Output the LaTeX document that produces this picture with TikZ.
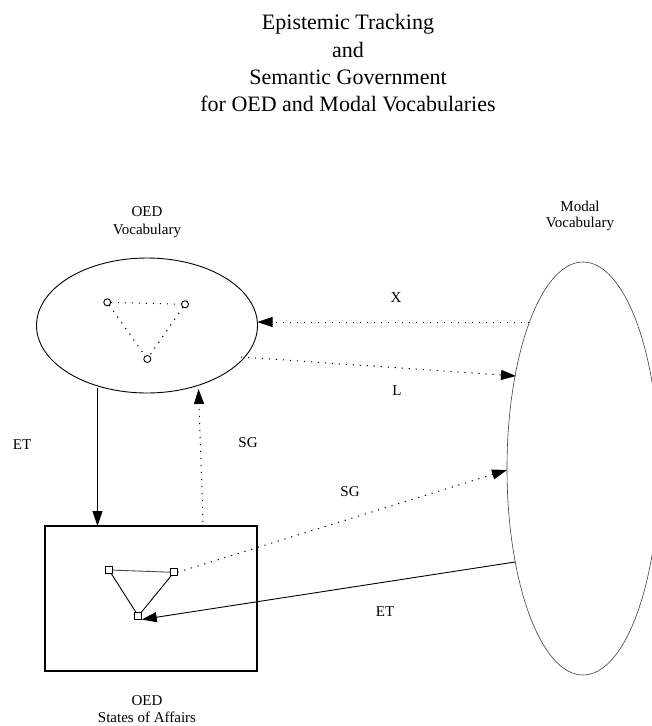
\documentclass[tikz,border=0pt]{standalone}
\usepackage{fontspec}
\setmainfont{Liberation Serif}
\usetikzlibrary{shapes.geometric,arrows.meta}
\begin{document}
\begin{tikzpicture}[x=1pt,y=-1pt,
  lbl/.style={font=\fontsize{15}{18}\selectfont, inner sep=0pt},
  lblb/.style={lbl, anchor=base},
  ttl/.style={font=\fontsize{22}{27}\selectfont, inner sep=0pt, anchor=base},
  solidline/.style={line width=0.9pt},
  dotline/.style={line width=1pt, dash pattern=on 1.2pt off 5.8pt},
  tip/.style={-{Triangle[length=15pt,width=10pt]}},
  dot/.style={circle, draw, line width=0.9pt, minimum size=7pt, inner sep=0pt, outer sep=0pt},
  sq/.style={rectangle, draw, line width=1.1pt, minimum size=7pt, inner sep=0pt, outer sep=0pt},
]
\useasboundingbox (0,0) rectangle (652,726);
\fill[white] (0,0) rectangle (652,726);

% title
\node[ttl] (t1) at (348,29.5) {Epistemic Tracking};
\node[ttl] (t2) at (348,57) {and};
\node[ttl] (t3) at (348,84) {Semantic Government};
\node[ttl] (t4) at (348,111) {for OED and Modal Vocabularies};

% OED vocabulary
\node[lblb] (ov1) at (147,216.7) {OED};
\node[lblb] (ov2) at (147,234.5) {Vocabulary};
\node[draw, ellipse, line width=0.9pt, minimum width=221pt, minimum height=135pt, inner sep=0pt, outer sep=0pt] (oed) at (147,325.5) {};
\node[dot] (c1) at (107.3,302.3) {};
\node[dot] (c2) at (185,304.3) {};
\node[dot] (c3) at (147.3,359) {};
\draw[dotline] (c1) -- (c2);
\draw[dotline] (c1) -- (c3);
\draw[dotline] (c2) -- (c3);

% Modal vocabulary
\node[lblb] (mv1) at (580,211.7) {Modal};
\node[lblb] (mv2) at (580,227.7) {Vocabulary};
\node[draw=black!75, ellipse, line width=0.6pt, minimum width=152pt, minimum height=413pt, inner sep=0pt, outer sep=0pt] (modal) at (583,468.5) {};

% states of affairs
\node[draw, line width=1.2pt, minimum width=212pt, minimum height=145pt, inner sep=0pt, outer sep=0pt] (soa) at (151,598.5) {};
\node[sq] (s1) at (109,570) {};
\node[sq] (s2) at (174,572.3) {};
\node[sq] (s3) at (138.3,616) {};
\draw[line width=0.9pt, black!70] (s1) -- (s2);
\draw[solidline] (s1) -- (s3);
\draw[solidline] (s2) -- (s3);
\node[lblb] (so1) at (147,705.7) {OED};
\node[lblb] (so2) at (147,722.7) {States of Affairs};

% connectors
\coordinate (xs) at (529,322);
\draw[dotline, tip] (xs) -- (xs -| oed.east);
\node[lbl] (xl) at (396,298) {X};

\coordinate (ls) at (241,357);
\coordinate (lt) at (516,376);
\draw[dotline, tip] (ls) -- (lt);
\node[lbl] (ll) at (397,391) {L};

\coordinate (ets) at (97.5,388);
\draw[solidline, tip] (ets) -- (ets |- soa.north);
\node[lbl] (etl) at (22,445) {ET};

\coordinate (sgs) at (203,522);
\coordinate (sgt) at (198.5,389);
\draw[dotline, tip] (sgs) -- (sgt);
\node[lbl] (sgl) at (248,443) {SG};

\coordinate (sgd) at (507,470);
\draw[dotline, tip] (s2.east) -- (sgd);
\node[lbl] (sgl2) at (350,492) {SG};

\coordinate (etd) at (515,562);
\draw[solidline, tip] (etd) -- (s3.south east);
\node[lbl] (etl2) at (385,612) {ET};
\end{tikzpicture}
\end{document}
